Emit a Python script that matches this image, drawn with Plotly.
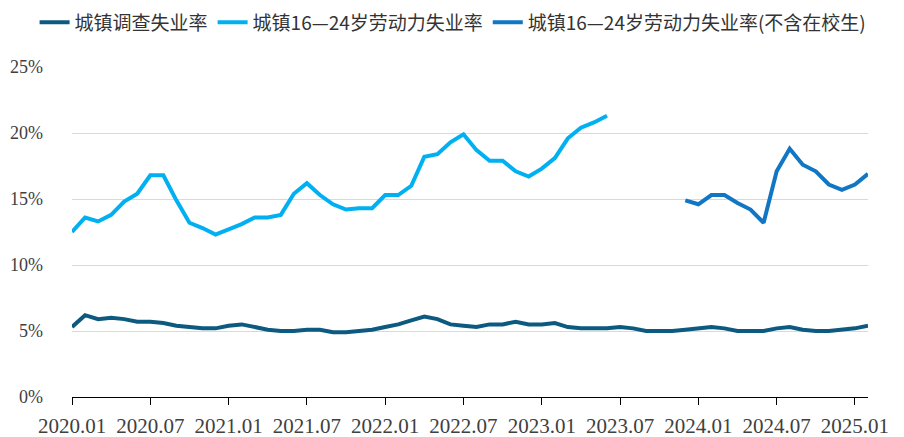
import plotly.graph_objects as go

# Month labels 2020.01 .. 2025.02
months = [f"{y}.{m:02d}" for y in range(2020, 2026) for m in range(1, 13)][:62]

urban_rate = [5.3, 6.2, 5.9, 6.0, 5.9, 5.7, 5.7, 5.6, 5.4, 5.3, 5.2, 5.2,
              5.4, 5.5, 5.3, 5.1, 5.0, 5.0, 5.1, 5.1, 4.9, 4.9, 5.0, 5.1,
              5.3, 5.5, 5.8, 6.1, 5.9, 5.5, 5.4, 5.3, 5.5, 5.5, 5.7, 5.5,
              5.5, 5.6, 5.3, 5.2, 5.2, 5.2, 5.3, 5.2, 5.0, 5.0, 5.0, 5.1,
              5.2, 5.3, 5.2, 5.0, 5.0, 5.0, 5.2, 5.3, 5.1, 5.0, 5.0, 5.1,
              5.2, 5.4]

youth_rate = [12.5, 13.6, 13.3, 13.8, 14.8, 15.4, 16.8, 16.8, 14.9, 13.2, 12.8, 12.3,
              12.7, 13.1, 13.6, 13.6, 13.8, 15.4, 16.2, 15.3, 14.6, 14.2, 14.3, 14.3,
              15.3, 15.3, 16.0, 18.2, 18.4, 19.3, 19.9, 18.7, 17.9, 17.9, 17.1, 16.7,
              17.3, 18.1, 19.6, 20.4, 20.8, 21.3] + [None] * 20

youth_excl_students = [None] * 47 + [14.9,
                       14.6, 15.3, 15.3, 14.7, 14.2, 13.2, 17.1, 18.8, 17.6, 17.1, 16.1, 15.7,
                       16.1, 16.9]

tick_labels = ["2020.01", "2020.07", "2021.01", "2021.07", "2022.01", "2022.07",
               "2023.01", "2023.07", "2024.01", "2024.07", "2025.01"]
y_ticks = [0, 5, 10, 15, 20, 25]

series_names = ["城镇调查失业率", "城镇16—24岁劳动力失业率", "城镇16—24岁劳动力失业率(不含在校生)"]
series_colors = ["#0d5a80", "#00b0f0", "#1176c3"]
series_data = [urban_rate, youth_rate, youth_excl_students]

fig = go.Figure()
for name, color, data in zip(series_names, series_colors, series_data):
    fig.add_trace(go.Scatter(
        x=months, y=data, name=name, mode="lines",
        line=dict(color=color, width=4), connectgaps=False,
    ))

serif = "Liberation Serif, DejaVu Serif, serif"

# page body has an 8px margin, so the figure is sized/offset to compensate
fig.update_layout(
    width=896, height=429,
    margin=dict(l=64, r=36, t=59, b=40, autoexpand=False),
    paper_bgcolor="white", plot_bgcolor="white",
    showlegend=True,
    legend=dict(
        orientation="h", x=-0.047, xanchor="left", y=1.135, yanchor="middle",
        font=dict(family="Noto Sans CJK SC", size=19, color="#333333"),
        bgcolor="rgba(0,0,0,0)", itemwidth=30, tracegroupgap=0,
    ),
    xaxis=dict(
        type="category", categoryorder="array", categoryarray=months,
        range=[0, len(months) - 1],
        tickmode="array", tickvals=tick_labels, ticktext=tick_labels,
        ticks="outside", ticklen=7, tickcolor="black", tickwidth=1,
        showline=True, linecolor="black", linewidth=1,
        showgrid=False, zeroline=False,
        tickfont=dict(family=serif, size=21, color="#404040"),
        ticklabelstandoff=3,
    ),
    yaxis=dict(
        range=[0, 25], tickmode="array", tickvals=y_ticks,
        ticktext=[f"{v}%" for v in y_ticks],
        showgrid=True, gridcolor="#d9d9d9", gridwidth=1,
        zeroline=False, showline=False, ticks="",
        ticklabelstandoff=28,
        tickfont=dict(family=serif, size=18, color="#404040"),
    ),
)

fig.write_html("out.html")
